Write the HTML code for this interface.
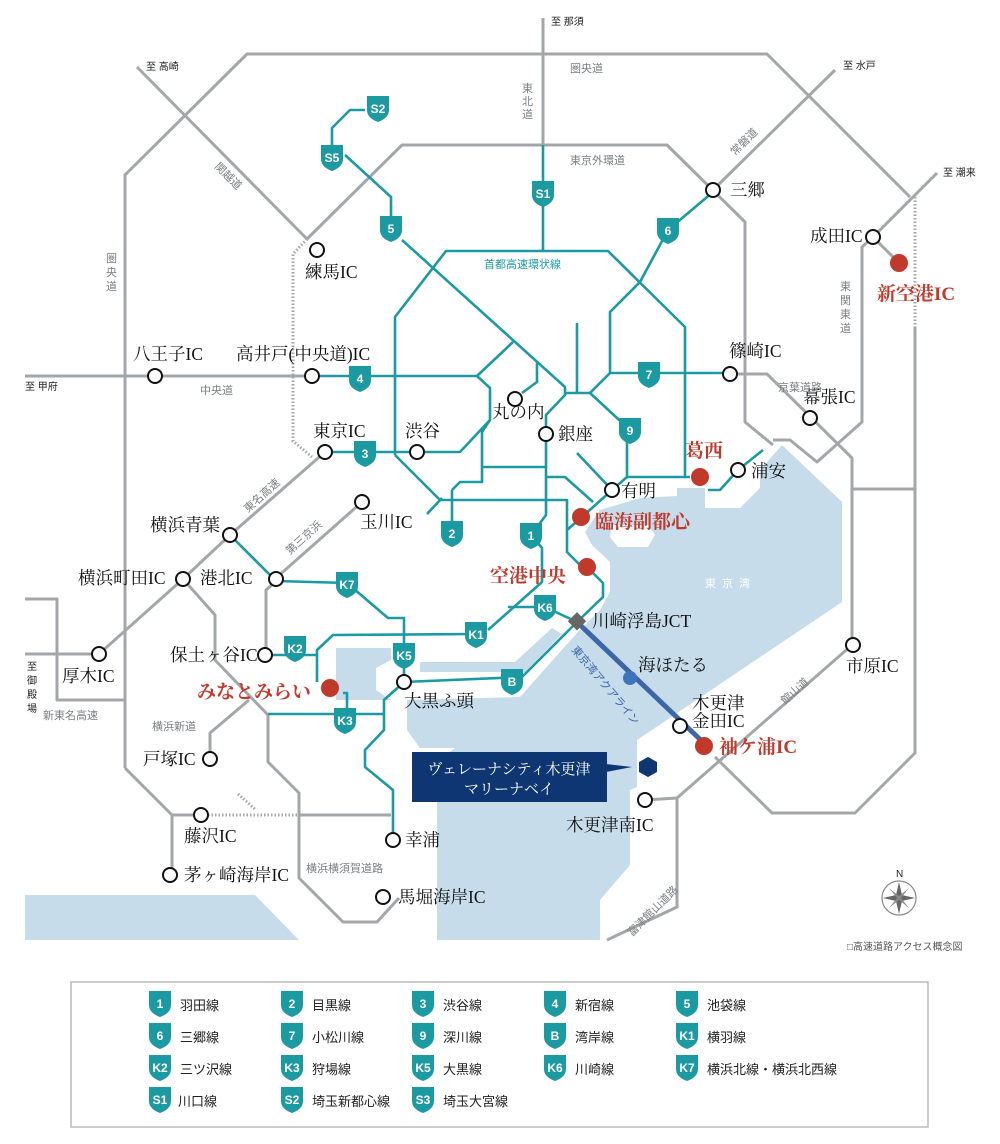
<!DOCTYPE html>
<html><head><meta charset="utf-8"><style>
html,body{margin:0;padding:0;background:#fff}
svg{display:block}
.g{fill:none;stroke:#a4a7aa;stroke-width:3;stroke-linejoin:round}
.gd{fill:none;stroke:#a4a7aa;stroke-width:3;stroke-dasharray:1.5 2}
.t{fill:none;stroke:#1b9aa2;stroke-width:2.6;stroke-linejoin:round}
.ic{fill:#fff;stroke:#111;stroke-width:2}
.rd{fill:#c0392b}
.l{font-family:"Liberation Serif","Noto Serif CJK SC",serif;font-size:17.5px;fill:#111}
.r{font-family:"Liberation Serif","Noto Serif CJK SC",serif;font-size:19px;fill:#c0392b;font-weight:bold}
.s{font-family:"Liberation Sans","Noto Sans CJK JP",sans-serif;font-size:11px;fill:#7b7f82}
.k{font-family:"Liberation Sans","Noto Sans CJK JP",sans-serif;font-size:10px;fill:#222}
.b{font-family:"Liberation Sans","Noto Sans CJK JP",sans-serif;font-size:12px;fill:#fff;font-weight:bold;text-anchor:middle}
.lg{font-family:"Liberation Sans","Noto Sans CJK JP",sans-serif;font-size:13px;fill:#222}
</style></head><body>
<svg width="1000" height="1144" viewBox="0 0 1000 1144" xmlns="http://www.w3.org/2000/svg">
<defs>
<path id="sh" d="M-11,-12 h22 v14 q0,8 -11,12 q-11,-4 -11,-12 z" fill="#1b9aa2"/>
</defs>
<g fill="#c6dcea">
<path d="M677,488 L705,488 L705,508 L740,508 L760,488 L760,470 L782,445 L842,502 L842,602 L637,740 L637,787 L630,790 L630,865 L600,900 L600,940 L437,940 L437,762 L455,748 L420,748 L407,730 L407,700 L520,697 L560,652 L578,632 L600,610 L610,592 L610,562 L592,545 L585,532 L600,510 L640,498 L677,496 Z"/>
<path d="M336,648 L391,648 L391,660 L376,668 L376,690 L391,700 L336,700 Z"/>
<path d="M420,662 L515,662 L552,628 L562,634 L525,672 L420,672 Z"/>
<path d="M25,895 L255,895 L299,940 L25,940 Z"/>
</g>
<path d="M612,525 L648,525 L655,535 L648,547 L618,547 L610,537 Z" fill="#fff"/>
<g>
<polyline class="g" points="125,768 125,175 247,54 767,54 910,197"/>
<polyline class="gd" points="915,197 915,328"/>
<polyline class="g" points="915,328 915,753 855,813 772,813 715,757"/>
<polyline class="g" points="137,67 307,239"/>
<polyline class="gd" points="307,239 293,254 293,441 312,457"/>
<polyline class="g" points="307,239 402,145 667,145 745,222 745,422 773,445"/>
<polyline class="g" points="773,440 790,440 817,462 862,422 862,247 873,237 937,173"/>
<polyline class="g" points="25,376 312,376"/>
<polyline class="g" points="543,18 543,145"/>
<polyline class="g" points="835,70 713,190"/>
<polyline class="g" points="730,374 767,374 852,458 852,645"/>
<polyline class="g" points="852,489 915,489"/>
<polyline class="g" points="852,645 677,798 645,800"/>
<polyline class="g" points="677,798 677,907 607,940"/>
<polyline class="g" points="325,452 230,535 183,579 99,654 25,654"/>
<polyline class="g" points="25,599 57,599 57,700 125,700"/>
<polyline class="g" points="125,768 172,815 201,815"/>
<polyline class="g" points="172,815 172,875"/>
<polyline class="gd" points="201,815 299,815"/>
<polyline class="gd" points="238,794 256,810"/>
<polyline class="g" points="299,815 391,815"/>
<polyline class="g" points="183,579 215,615 215,660 268,715 268,762 299,793 299,878 343,922 377,922 399,898"/>
<polyline class="g" points="276,581 266,590 266,655"/>
<polyline class="g" points="210,759 210,733 249,700"/>
<polyline class="g" points="362,502 276,578"/>
<line x1="873" y1="237" x2="899" y2="263" stroke="#a4a7aa" stroke-width="3"/>
</g>
<g>
<polyline class="t" points="365,110 350,110 332,128 332,145"/>
<polyline class="t" points="345,155 391,197 391,230"/>
<polyline class="t" points="402,240 565,387 565,395 546,415 546,434"/>
<polyline class="t" points="543,145 543,251"/>
<polyline class="t" points="395,455 395,317 446,251 608,251 685,327 685,477"/>
<polyline class="t" points="395,455 440,500 567,500 567,552 581,566"/>
<polyline class="t" points="427,514 442,498"/>
<polyline class="t" points="452,490 452,533"/>
<polyline class="t" points="713,192 668,230 640,282 610,312 610,373 590,393 565,393"/>
<polyline class="t" points="577,323 577,393"/>
<polyline class="t" points="610,373 730,373"/>
<polyline class="t" points="590,393 630,430 627,440 627,477 690,477"/>
<polyline class="t" points="312,376 477,376 513,342"/>
<polyline class="t" points="477,376 490,388 490,420 460,452 325,452"/>
<polyline class="t" points="537,362 537,382 522,393"/>
<polyline class="t" points="490,420 482,432 482,482 460,482 452,490"/>
<polyline class="t" points="482,467 545,467"/>
<polyline class="t" points="546,434 546,515 531,535 542,548 542,582 488,630"/>
<polyline class="t" points="545,477 565,477 593,502"/>
<polyline class="t" points="577,453 612,490 582,517 567,530"/>
<polyline class="t" points="612,490 627,477"/>
<polyline class="t" points="581,566 593,573 603,583 603,597 577,622 545,607 508,607"/>
<polyline class="t" points="577,622 522,677 404,682"/>
<polyline class="t" points="476,634 333,635 317,650 317,682"/>
<polyline class="t" points="270,655 317,655"/>
<polyline class="t" points="276,581 347,583 388,618 404,618 404,682"/>
<polyline class="t" points="230,535 276,581"/>
<polyline class="t" points="343,693 347,693 347,714"/>
<polyline class="t" points="268,714 384,714"/>
<polyline class="t" points="404,682 384,700 384,730 365,750 365,767 393,790 393,833"/>
<polyline class="t" points="708,490 720,490 738,470 763,450"/>
</g>
<line x1="577" y1="622" x2="707" y2="746" stroke="#3d66a8" stroke-width="5"/>
<circle cx="630" cy="678" r="7" fill="#3d74c0"/>
<rect x="570" y="615" width="13" height="13" fill="#666" transform="rotate(45 577 622)"/>
<g>
<use href="#sh" x="378" y="108"/><text class="b" x="378" y="113">S2</text>
<use href="#sh" x="332" y="157"/><text class="b" x="332" y="162">S5</text>
<use href="#sh" x="391" y="228"/><text class="b" x="391" y="233">5</text>
<use href="#sh" x="543" y="193"/><text class="b" x="543" y="198">S1</text>
<use href="#sh" x="668" y="230"/><text class="b" x="668" y="235">6</text>
<use href="#sh" x="360" y="378"/><text class="b" x="360" y="383">4</text>
<use href="#sh" x="649" y="374"/><text class="b" x="649" y="379">7</text>
<use href="#sh" x="365" y="453"/><text class="b" x="365" y="458">3</text>
<use href="#sh" x="630" y="430"/><text class="b" x="630" y="435">9</text>
<use href="#sh" x="452" y="533"/><text class="b" x="452" y="538">2</text>
<use href="#sh" x="531" y="535"/><text class="b" x="531" y="540">1</text>
<use href="#sh" x="347" y="584"/><text class="b" x="347" y="589">K7</text>
<use href="#sh" x="545" y="607"/><text class="b" x="545" y="612">K6</text>
<use href="#sh" x="476" y="634"/><text class="b" x="476" y="639">K1</text>
<use href="#sh" x="295" y="648"/><text class="b" x="295" y="653">K2</text>
<use href="#sh" x="404" y="655"/><text class="b" x="404" y="660">K5</text>
<use href="#sh" x="512" y="681"/><text class="b" x="512" y="686">B</text>
<use href="#sh" x="345" y="720"/><text class="b" x="345" y="725">K3</text>
</g>
<g class="ic">
<circle cx="155" cy="376" r="7"/><circle cx="312" cy="376" r="7"/><circle cx="317" cy="250" r="7"/>
<circle cx="325" cy="452" r="7"/><circle cx="417" cy="452" r="7"/><circle cx="515" cy="399" r="7"/>
<circle cx="546" cy="434" r="7"/><circle cx="612" cy="490" r="7"/><circle cx="738" cy="470" r="7"/>
<circle cx="713" cy="190" r="7"/><circle cx="730" cy="374" r="7"/><circle cx="810" cy="418" r="7"/>
<circle cx="873" cy="237" r="7"/><circle cx="362" cy="502" r="7"/><circle cx="230" cy="535" r="7"/>
<circle cx="183" cy="579" r="7"/><circle cx="276" cy="579" r="7"/><circle cx="99" cy="654" r="7"/>
<circle cx="265" cy="655" r="7"/><circle cx="210" cy="759" r="7"/><circle cx="201" cy="815" r="7"/>
<circle cx="170" cy="875" r="7"/><circle cx="393" cy="840" r="7"/><circle cx="383" cy="897" r="7"/>
<circle cx="404" cy="682" r="7"/><circle cx="680" cy="726" r="7"/><circle cx="645" cy="800" r="7"/>
<circle cx="853" cy="645" r="7"/>
</g>
<g class="rd">
<circle cx="700" cy="477" r="9"/><circle cx="581" cy="517" r="9"/><circle cx="587" cy="567" r="9"/>
<circle cx="330" cy="688" r="9"/><circle cx="899" cy="263" r="9"/><circle cx="704" cy="746" r="9"/>
</g>
<polygon points="648,757 657,762 657,772 648,777 639,772 639,762" fill="#0e3672"/>
<polygon points="606,764 632,767 606,772" fill="#0e3672"/>
<rect x="412" y="752" width="195" height="50" fill="#0e3672"/>
<text x="509" y="774" text-anchor="middle" style="font-family:'Liberation Serif','Noto Serif CJK SC',serif;font-size:15px;fill:#fff">ヴェレーナシティ木更津</text>
<text x="509" y="794" text-anchor="middle" style="font-family:'Liberation Serif','Noto Serif CJK SC',serif;font-size:15px;fill:#fff">マリーナベイ</text>
<g class="l">
<text x="305" y="278">練馬IC</text><text x="133" y="360">八王子IC</text><text x="236" y="360">高井戸(中央道)IC</text>
<text x="313" y="437">東京IC</text><text x="405" y="437">渋谷</text><text x="492" y="418">丸の内</text>
<text x="558" y="440">銀座</text><text x="621" y="497">有明</text><text x="751" y="477">浦安</text>
<text x="730" y="196">三郷</text><text x="729" y="357">篠崎IC</text><text x="803" y="403">幕張IC</text>
<text x="810" y="242">成田IC</text><text x="360" y="528">玉川IC</text><text x="150" y="531">横浜青葉</text>
<text x="78" y="584">横浜町田IC</text><text x="200" y="584">港北IC</text><text x="170" y="661">保土ヶ谷IC</text>
<text x="62" y="682">厚木IC</text><text x="143" y="765">戸塚IC</text><text x="184" y="842">藤沢IC</text>
<text x="184" y="881">茅ヶ崎海岸IC</text><text x="405" y="846">幸浦</text><text x="398" y="903">馬堀海岸IC</text>
<text x="404" y="707">大黒ふ頭</text><text x="592" y="627">川崎浮島JCT</text><text x="638" y="671">海ほたる</text>
<text x="692" y="709">木更津</text><text x="692" y="727">金田IC</text><text x="566" y="831">木更津南IC</text>
<text x="846" y="672">市原IC</text>
</g>
<g class="r">
<text x="685" y="457">葛西</text><text x="595" y="528">臨海副都心</text><text x="490" y="582">空港中央</text>
<text x="197" y="698">みなとみらい</text><text x="877" y="300">新空港IC</text><text x="719" y="753">袖ケ浦IC</text>
</g>
<g class="s">
<text x="570" y="72">圏央道</text>
<text x="522" y="92">東</text><text x="522" y="105">北</text><text x="522" y="118">道</text>
<text x="570" y="164">東京外環道</text>
<text transform="translate(735,156) rotate(-45)">常磐道</text>
<text transform="translate(214,167) rotate(45)">関越道</text>
<text x="106" y="262">圏</text><text x="106" y="276">央</text><text x="106" y="290">道</text>
<text x="200" y="394">中央道</text>
<text x="840" y="290">東</text><text x="840" y="304">関</text><text x="840" y="318">東</text><text x="840" y="332">道</text>
<text x="778" y="391">京葉道路</text>
<text transform="translate(248,513) rotate(-42)">東名高速</text>
<text transform="translate(290,555) rotate(-42)">第三京浜</text>
<text x="43" y="719">新東名高速</text>
<text x="152" y="730">横浜新道</text>
<text x="306" y="872">横浜横須賀道路</text>
<text transform="translate(785,705) rotate(-42)">館山道</text>
<text transform="translate(632,937) rotate(-45)">富津館山道路</text>
<text transform="translate(571,650) rotate(50)" style="fill:#3d66a8">東京湾アクアライン</text>
<text x="705" y="587" style="fill:#fff;letter-spacing:6px">東京湾</text>
<text x="484" y="268" style="fill:#1b9aa2">首都高速環状線</text>
</g>
<g class="k">
<text x="551" y="25">至 那須</text><text x="146" y="70">至 高崎</text><text x="843" y="69">至 水戸</text>
<text x="943" y="176">至 潮来</text><text x="25" y="390">至 甲府</text>
<text x="27" y="670">至</text><text x="27" y="684">御</text><text x="27" y="698">殿</text><text x="27" y="712">場</text>
<text x="847" y="950" style="fill:#555">□高速道路アクセス概念図</text>
</g>
<g transform="translate(899,898)">
<circle r="17" fill="none" stroke="#888" stroke-width="1.2"/>
<polygon points="0,-16 3,-3 16,0 3,3 0,16 -3,3 -16,0 -3,-3" fill="#666"/>
<polygon points="-10,-10 1,-1 10,10 -1,1" fill="#888"/>
<polygon points="10,-10 1,1 -10,10 -1,-1" fill="#888"/>
<text x="-3" y="-21" class="k">N</text>
</g>
<rect x="71" y="982" width="857" height="145" fill="#fff" stroke="#bbb" stroke-width="1.5"/>
<g>
<use href="#sh" x="160" y="1003"/><text class="b" x="160" y="1008">1</text><text class="lg" x="180" y="1010">羽田線</text>
<use href="#sh" x="292" y="1003"/><text class="b" x="292" y="1008">2</text><text class="lg" x="312" y="1010">目黒線</text>
<use href="#sh" x="423" y="1003"/><text class="b" x="423" y="1008">3</text><text class="lg" x="443" y="1010">渋谷線</text>
<use href="#sh" x="555" y="1003"/><text class="b" x="555" y="1008">4</text><text class="lg" x="575" y="1010">新宿線</text>
<use href="#sh" x="687" y="1003"/><text class="b" x="687" y="1008">5</text><text class="lg" x="707" y="1010">池袋線</text>
<use href="#sh" x="160" y="1035"/><text class="b" x="160" y="1040">6</text><text class="lg" x="180" y="1042">三郷線</text>
<use href="#sh" x="292" y="1035"/><text class="b" x="292" y="1040">7</text><text class="lg" x="312" y="1042">小松川線</text>
<use href="#sh" x="423" y="1035"/><text class="b" x="423" y="1040">9</text><text class="lg" x="443" y="1042">深川線</text>
<use href="#sh" x="555" y="1035"/><text class="b" x="555" y="1040">B</text><text class="lg" x="575" y="1042">湾岸線</text>
<use href="#sh" x="687" y="1035"/><text class="b" x="687" y="1040">K1</text><text class="lg" x="707" y="1042">横羽線</text>
<use href="#sh" x="160" y="1067"/><text class="b" x="160" y="1072">K2</text><text class="lg" x="180" y="1074">三ツ沢線</text>
<use href="#sh" x="292" y="1067"/><text class="b" x="292" y="1072">K3</text><text class="lg" x="312" y="1074">狩場線</text>
<use href="#sh" x="423" y="1067"/><text class="b" x="423" y="1072">K5</text><text class="lg" x="443" y="1074">大黒線</text>
<use href="#sh" x="555" y="1067"/><text class="b" x="555" y="1072">K6</text><text class="lg" x="575" y="1074">川崎線</text>
<use href="#sh" x="687" y="1067"/><text class="b" x="687" y="1072">K7</text><text class="lg" x="707" y="1074">横浜北線・横浜北西線</text>
<use href="#sh" x="160" y="1099"/><text class="b" x="160" y="1104">S1</text><text class="lg" x="178" y="1106">川口線</text>
<use href="#sh" x="292" y="1099"/><text class="b" x="292" y="1104">S2</text><text class="lg" x="312" y="1106">埼玉新都心線</text>
<use href="#sh" x="423" y="1099"/><text class="b" x="423" y="1104">S3</text><text class="lg" x="443" y="1106">埼玉大宮線</text>
</g>
</svg>
</body></html>
